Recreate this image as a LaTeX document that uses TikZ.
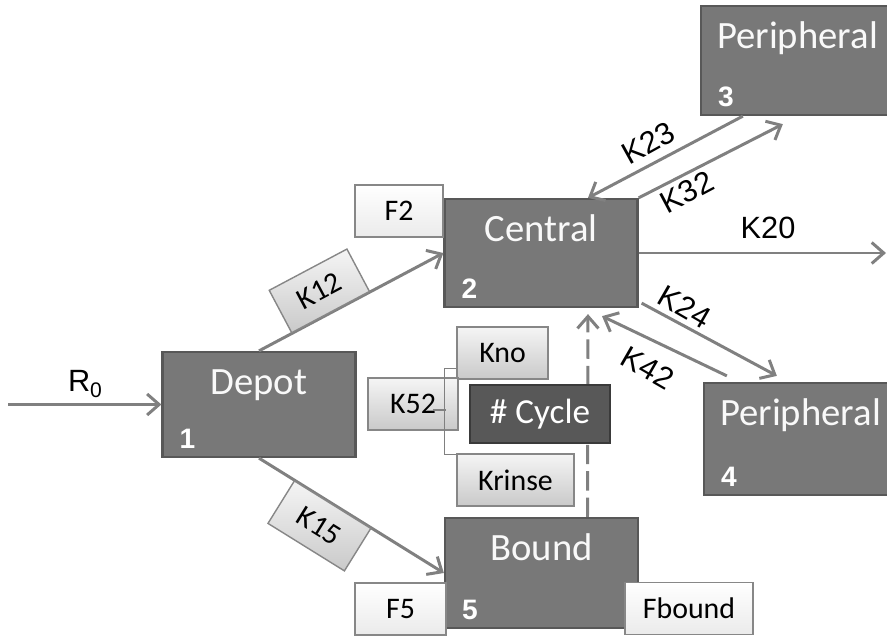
\documentclass[tikz,border=0pt]{standalone}
\usepackage{fontspec}
\setmainfont{Carlito}
\newfontfamily\arialf{Liberation Sans}
\usetikzlibrary{calc, arrows.meta}
\definecolor{boxgray}{RGB}{120,120,120}
\definecolor{boxedge}{RGB}{88,88,88}
\definecolor{cycgray}{RGB}{88,88,88}
\definecolor{cycedge}{RGB}{58,58,58}
\definecolor{linegray}{RGB}{128,128,128}
\definecolor{keyedge}{RGB}{135,135,135}
\tikzset{
 block/.style = {
    rectangle, draw=boxedge, fill=boxgray,
    line width=1.3pt,
    minimum width=3.86cm,
    minimum height=2.16cm},
 title/.style = {
    text=white!95!gray, anchor=base,
    font=\fontsize{22}{26}\selectfont},
 num/.style = {
    text=white, anchor=base west, inner sep=0pt,
    font=\arialf\bfseries\fontsize{16}{18}\selectfont},
 kbox/.style = {
    rectangle, draw=keyedge, line width=0.8pt,
    top color=gray!8, bottom color=gray!42,
    minimum width=1.8cm, minimum height=1.04cm,
    inner sep=0pt, font=\fontsize{17}{20}\selectfont},
 fluxbox/.style = {
    kbox, top color=white, bottom color=gray!16},
 cyclebox/.style = {
    rectangle, draw=cycedge, fill=cycgray, line width=1.3pt,
    minimum width=2.8cm, minimum height=1.16cm,
    text=white, font=\fontsize{20}{24}\selectfont},
 line/.style = {
    draw=linegray, line width=1.7pt,
    -{Straight Barb[length=0.24cm, width=0.42cm]}},
 rate/.style = {
    inner sep=0pt, font=\arialf\fontsize{17.5}{20}\selectfont},
 brk/.style = {
    draw=gray, line width=0.7pt},
}
\begin{document}
\begin{tikzpicture}[x=0.02cm, y=-0.02cm]
    \clip (0,0) rectangle (887,640);

    % Place nodes
    \node [block, minimum height=2.1cm]  (dep)  at (259,404.5) {};
    \node [block]                        (cen)  at (541,253)   {};
    \node [block, minimum height=2.2cm]  (bnd)  at (541.5,573) {};
    \node [block, minimum height=2.18cm] (per3) at (797.5,60.5) {};
    \node [block, minimum height=2.24cm] (per4) at (800.5,439) {};

    \foreach \n/\t/\k in {dep/Depot/1, cen/Central/2, per3/Peripheral/3, per4/Peripheral/4, bnd/Bound/5}{
        \node [title] (\n-t) at ($(\n.north)+(0,44)$) {\t};
        \node [num]   (\n-k) at ($(\n.south west)+(18,-10)$) {\k};
    }

    \node [fluxbox, minimum width=1.76cm] (f2)  at (399,211)   {F2};
    \node [fluxbox, minimum width=1.82cm] (f5)  at (400.5,609) {F5};
    \node [fluxbox, minimum width=2.56cm] (fb)  at (689,608.5) {Fbound};
    \node [kbox, minimum width=1.82cm]    (kno) at (502.5,353) {Kno};
    \node [kbox]                          (k52) at (413,404)   {K52};
    \node [kbox, minimum width=2.34cm]    (kri) at (515.5,480) {Krinse};

    % Connectors
    \coordinate (in)  at (8,404.5);
    \coordinate (out) at (886,253);
    \path [line] (in) -- (dep.west);
    \node [rate] (r0) at (85,384) {R\raisebox{-0.35ex}{\fontsize{12}{13}\selectfont 0}};

    \path [line] (dep.north) -- node [kbox, sloped, above, pos=0.39, minimum width=1.76cm, minimum height=0.96cm] (k12) {K12} (cen.west);
    \path [line] (dep.south) -- node [kbox, sloped, below, pos=0.4, minimum height=1cm] (k15) {K15} (bnd.west);

    \path [line] ($(per3.south west)+(43,0)$) -- ($(cen.north)+(47,0)$);
    \path [line] (cen.north east) -- ($(per3.south west)+(83,8)$);
    \path [line] (cen.east) -- (out);
    \path [line] ($(cen.south east)+(3,-5)$) -- ($(per4.north west)+(74,-6)$);
    \path [line] ($(per4.north west)+(24,-6)$) -- ($(cen.south)+(61,8)$);
    \path [line, dash pattern=on 11pt off 4pt] ($(bnd.north)+(46,0)$) -- ($(cen.south)+(47,6)$);

    \node [rate, rotate=29]  (l23) at (648,143) {K23};
    \node [rate, rotate=28]  (l32) at (687,192) {K32};
    \node [rate]             (l20) at (768,228) {K20};
    \node [rate, rotate=-30] (l24) at (685,307) {K24};
    \node [rate, rotate=-30] (l42) at (648,368) {K42};

    \node [cyclebox] (cyc) at (540,414) {\# Cycle};

    \draw [brk] ($(kno.south west)+(0,-11)$) -- ++(-12,0) |- ($(kri.north west)+(0,1)$);
    \draw [brk] ($(k52.east)+(-26,6)$) -- ++(13,0);

\end{tikzpicture}
\end{document}
